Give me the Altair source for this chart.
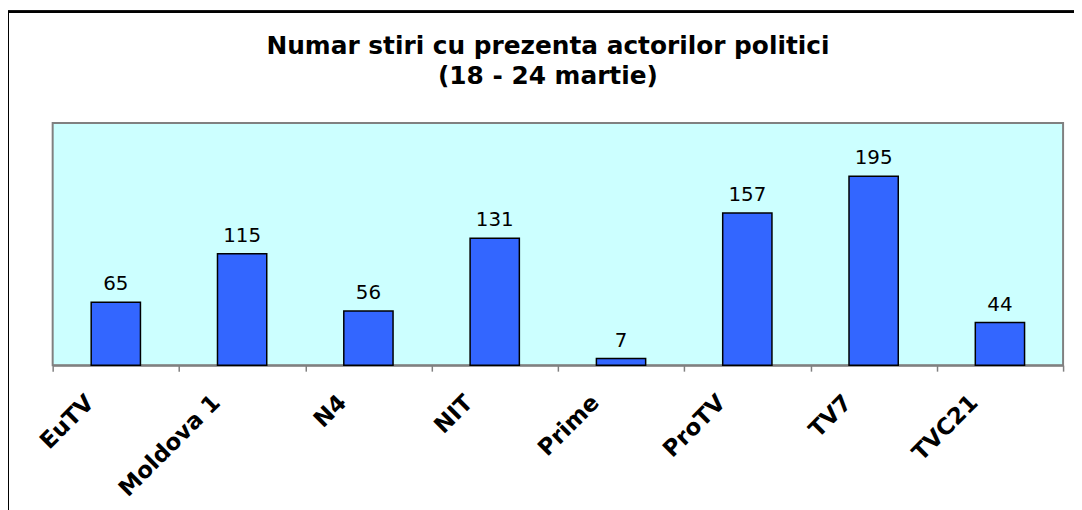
import altair as alt
import pandas as pd

channels = ["EuTV", "Moldova 1", "N4", "NIT", "Prime", "ProTV", "TV7", "TVC21"]
counts = [65, 115, 56, 131, 7, 157, 195, 44]
title_lines = ["Numar stiri cu prezenta actorilor politici", "(18 - 24 martie)"]

df = pd.DataFrame({"canal": channels, "stiri": counts})

FONT = "DejaVu Sans"

x_enc = alt.X(
    "canal:N",
    sort=channels,
    title=None,
    scale=alt.Scale(paddingInner=0, paddingOuter=0),
    axis=alt.Axis(
        labelAngle=-45,
        labelAlign="right",
        labelBaseline="top",
        labelFont=FONT,
        labelFontWeight="bold",
        labelFontSize=23,
        labelColor="black",
        labelPadding=20,
        labelOffset=-34,
        tickBand="extent",
        tickSize=6,
        tickColor="#808080",
        tickWidth=1.5,
        domainColor="#808080",
        domainWidth=2,
        grid=False,
    ),
)
y_enc = alt.Y("stiri:Q", axis=None, scale=alt.Scale(domain=[0, 250], nice=False))

bars = alt.Chart(df).mark_bar(
    width=alt.RelativeBandSize(0.39),
    color="#3366FF",
    stroke="black",
    strokeWidth=1.5,
).encode(x=x_enc, y=y_enc)

labels = alt.Chart(df).mark_text(
    font=FONT, fontSize=20, color="black", baseline="bottom", dy=-8
).encode(x=x_enc, y=y_enc, text="stiri:Q")

frame = alt.Chart(df).mark_rect(
    fill=None, stroke="black", strokeWidth=2
).encode(
    x=alt.value(-45), x2=alt.value(1060), y=alt.value(-112), y2=alt.value(420)
)

title1 = alt.Chart(pd.DataFrame({"t": [title_lines[0]]})).mark_text(
    font=FONT, fontSize=25, fontWeight="bold", color="black", baseline="alphabetic"
).encode(text="t:N", x=alt.value(499), y=alt.value(-70))

title2 = alt.Chart(pd.DataFrame({"t": [title_lines[1]]})).mark_text(
    font=FONT, fontSize=25, fontWeight="bold", color="black", baseline="alphabetic"
).encode(text="t:N", x=alt.value(499), y=alt.value(-39))

chart = alt.layer(bars, labels, frame, title1, title2).properties(
    width=1018,
    height=244,
    padding={"left": 45, "top": 114, "right": 11, "bottom": 144},
    autosize=alt.AutoSizeParams(type="none"),
).configure(background="white").configure_view(
    fill="#CCFFFF", stroke="#808080", strokeWidth=2
)

chart.save("out.html", embed_options={"renderer": "svg", "actions": False})
